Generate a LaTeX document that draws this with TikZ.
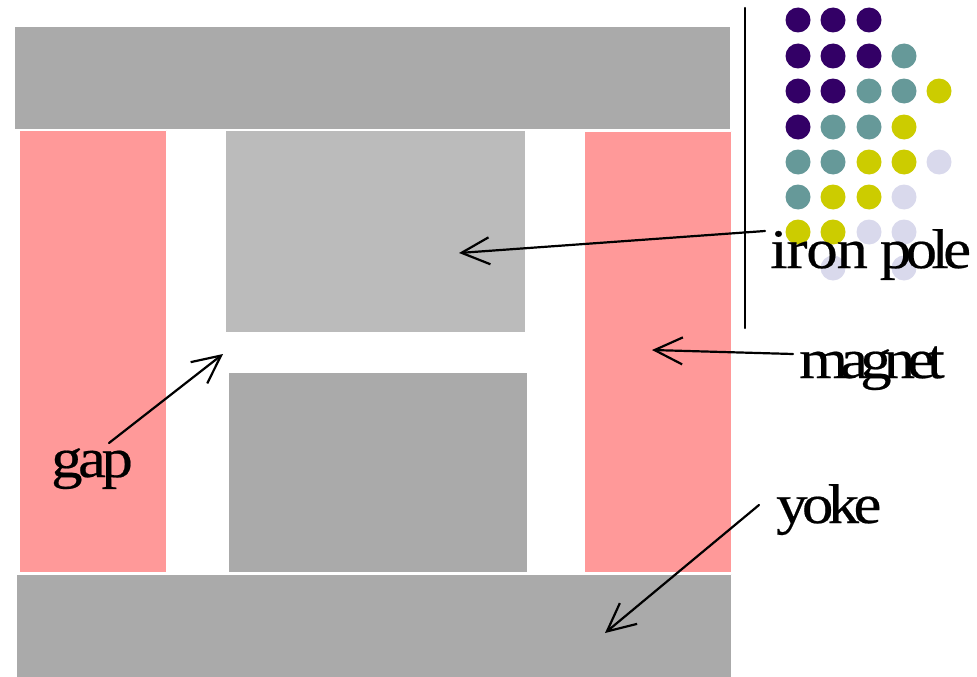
\documentclass[tikz,border=0pt]{standalone}
\usepackage{fontspec}
\setmainfont{Liberation Serif}
\newfontfamily\lblfont[FakeStretch=1.12,FakeBold=0.4]{Liberation Serif}
\usetikzlibrary{arrows.meta}
\definecolor{yokegray}{HTML}{AAAAAA}
\definecolor{polegray}{HTML}{BBBBBB}
\definecolor{magnetpink}{HTML}{FF9999}
\definecolor{dotpurple}{HTML}{330066}
\definecolor{dotteal}{HTML}{669999}
\definecolor{dotyellow}{HTML}{CCCC00}
\definecolor{dotlav}{HTML}{D9D9EC}
\newcommand{\tight}[2]{{\addfontfeature{LetterSpace=#1}#2}}
\tikzset{
  lbl/.style={anchor=base west,inner sep=0pt,font=\lblfont\fontsize{56}{60}\selectfont},
  block/.style={fill=#1,draw=white,line width=.5pt},
  pointer/.style={->,line width=2.2pt},
}
\begin{document}
\begin{tikzpicture}[x=1pt,y=-1pt,>={Straight Barb[length=28pt,width=27pt,line width=2.2pt]}, line join=round, line cap=round]
            \useasboundingbox (0,0) rectangle (977,677);
            % yoke, poles, magnets
            \path[block=yokegray] (14,26) rectangle (730,129);
            \path[block=yokegray] (16,574) rectangle (731.5,677.5);
            \path[block=polegray] (225,130) rectangle (525,332);
            \path[block=yokegray] (228,372) rectangle (527,572);
            \path[block=magnetpink] (19,130) rectangle (166.5,572);
            \path[block=magnetpink] (584,131) rectangle (731.5,572);
            \draw[line width=2.2pt] (745,8)--(745,328);
            % dots, column by column
            \foreach \c/\r/\k in {
              798/20/dotpurple,833/20/dotpurple,869/20/dotpurple,
              798/56/dotpurple,833/56/dotpurple,869/56/dotpurple,904/56/dotteal,
              798/91/dotpurple,833/91/dotpurple,869/91/dotteal,904/91/dotteal,939/91/dotyellow,
              798/127/dotpurple,833/127/dotteal,869/127/dotteal,904/127/dotyellow,
              798/162/dotteal,833/162/dotteal,869/162/dotyellow,904/162/dotyellow,939/162/dotlav,
              798/197/dotteal,833/197/dotyellow,869/197/dotyellow,904/197/dotlav,
              798/232/dotyellow,833/232/dotyellow,869/232/dotlav,904/232/dotlav,
              833/268/dotlav,904/268/dotlav}
            \fill[\k] (\c,\r) circle (12.5);
            % labels
            \node[lbl] (ironpole) at (770,268) {\tight{-2}{iron}\hspace{12pt}\tight{-10}{pole}};
            \node[lbl] (magnet) at (799,378) {\tight{-14}{magnet}};
            \node[lbl] (yoke) at (776,523) {\tight{-10}{yoke}};
            \node[lbl] (gap) at (51,477) {\tight{-8}{gap}};
            % arrows
            \coordinate (ironfrom) at (765,231);
            \coordinate (ironto) at (459,253);
            \coordinate (magnetfrom) at (793,354);
            \coordinate (magnetto) at (652,350);
            \coordinate (yokefrom) at (759,505);
            \coordinate (yoketo) at (605,633);
            \coordinate (gapfrom) at (109,443);
            \coordinate (gapto) at (223,354);
            \foreach \a/\b in {ironfrom/ironto,magnetfrom/magnetto,yokefrom/yoketo,gapfrom/gapto}
            \draw[pointer] (\a)--(\b);
        \end{tikzpicture}
\end{document}
